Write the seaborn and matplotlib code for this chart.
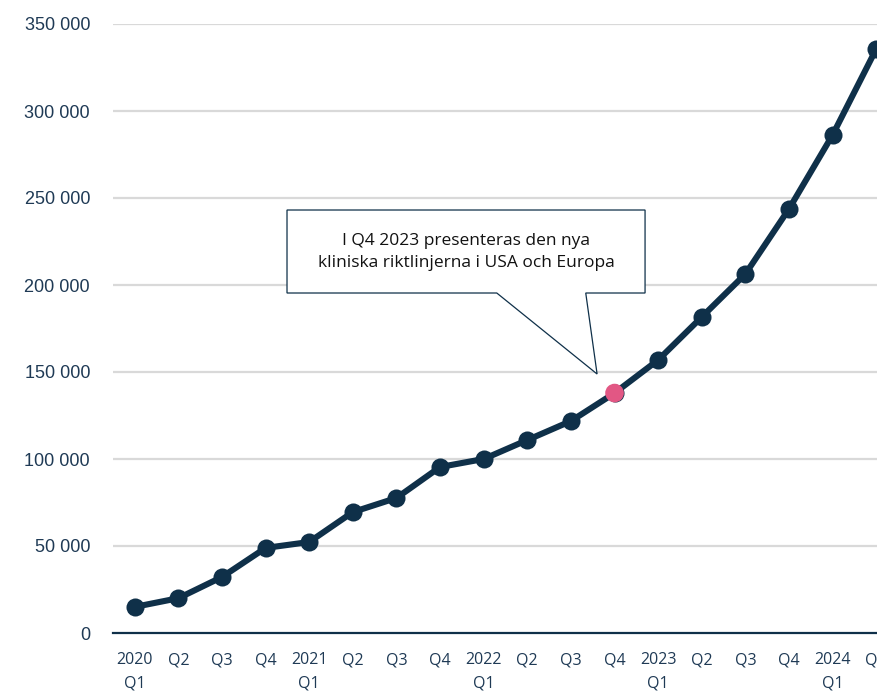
import matplotlib
matplotlib.use("Agg")
import matplotlib.pyplot as plt
import seaborn as sns
import pandas as pd
from matplotlib.patches import Polygon

quarters = ["2020\nQ1", "Q2", "Q3", "Q4", "2021\nQ1", "Q2", "Q3", "Q4",
            "2022\nQ1", "Q2", "Q3", "Q4", "2023\nQ1", "Q2", "Q3", "Q4",
            "2024\nQ1", "Q2"]
values = [15000, 20000, 32200, 48900, 52300, 69500, 77600, 95400,
          100000, 110900, 121800, 137900, 156900, 181600, 206300, 243700,
          286200, 335600]
highlight_index = 11
yticks = [0, 50000, 100000, 150000, 200000, 250000, 300000, 350000]
ytick_labels = ["0", "50 000", "100 000", "150 000", "200 000", "250 000", "300 000", "350 000"]
callout_text = "I Q4 2023 presenteras den nya\nkliniska riktlinjerna i USA och Europa"

sns.set_theme(style="white")
plt.rcParams['font.family'] = ['Open Sans', 'DejaVu Sans']

NAVY = "#0f3049"
TEXT = "#1f3a55"
PINK = "#e25784"

df = pd.DataFrame({"x": range(len(values)), "y": values})

fig = plt.figure(figsize=(8.78, 6.91), dpi=100)
ax = fig.add_axes([113/878, 1-633/691, (898-113)/878, (633-24)/691])

for yv in yticks[1:]:
    ax.axhline(yv, color="#d9d9d9", lw=1.6, zorder=0)

sns.lineplot(data=df, x="x", y="y", ax=ax, color=NAVY, lw=4.4, marker="o",
             markersize=13, markeredgewidth=0, clip_on=False, zorder=3)
sns.scatterplot(x=[highlight_index], y=[values[highlight_index]], ax=ax,
                color=PINK, s=180, edgecolor="none", zorder=4, clip_on=False)

ax.set_xlim(-0.5, len(values) - 0.5)
ax.set_ylim(0, 350000)
ax.set_xticks(range(len(values)))
ax.set_xticklabels(quarters, fontsize=11.5, color=TEXT, linespacing=1.55)
ax.set_yticks(yticks)
ax.set_yticklabels(ytick_labels, fontsize=13, color=TEXT, family=['Liberation Sans', 'DejaVu Sans'])
ax.tick_params(axis="x", length=0, pad=14)
ax.tick_params(axis="y", length=0, pad=16.5)
ax.set_xlabel("")
ax.set_ylabel("")
for s in ["top", "right", "left"]:
    ax.spines[s].set_visible(False)
ax.spines["bottom"].set_color(NAVY)
ax.spines["bottom"].set_linewidth(1.6)
ax.spines["bottom"].set_zorder(2)

# callout box
x0, x1 = 3.49, 11.70
yt, yb = 243100, 195400
poly = Polygon([(x0, yt), (x1, yt), (x1, yb), (10.34, yb), (10.60, 148850),
                (8.30, yb), (x0, yb)], closed=True, facecolor="white",
               edgecolor=NAVY, lw=0.9, zorder=5, clip_on=False)
ax.add_patch(poly)
ax.text((x0 + x1) / 2, (yt + yb) / 2, callout_text, ha="center", va="center",
        fontsize=12.5, color="#111111", linespacing=1.5, zorder=6)

ax.set_facecolor("white")
fig.patch.set_facecolor("white")
fig.savefig("out.png", dpi=100, facecolor="white")
